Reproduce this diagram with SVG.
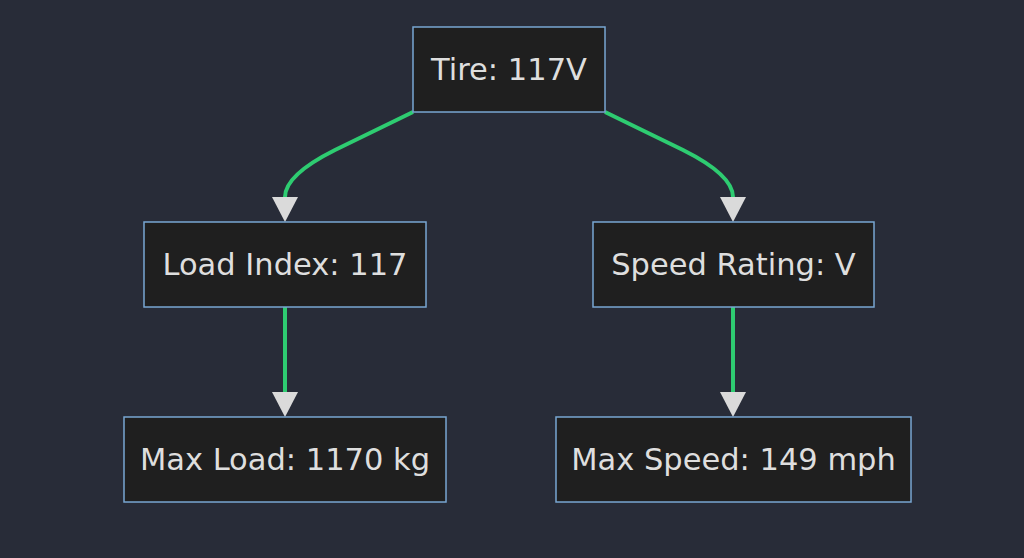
<svg xmlns="http://www.w3.org/2000/svg" width="1024" height="558" viewBox="0 0 1024 558">
<style>
.node rect{fill:#1f1f1f;stroke:#78a6d2;stroke-width:1.5}
.node text{fill:#dedede;font-family:"DejaVu Sans",sans-serif;font-size:30.5px;text-anchor:middle;dominant-baseline:central}
.edge{fill:none;stroke:#2ecc71;stroke-width:4}
</style>
<defs>
<marker id="arr" markerUnits="userSpaceOnUse" markerWidth="28" markerHeight="28" refX="0" refY="13" orient="auto" overflow="visible">
<path d="M0,0 L25,13 L0,26 Z" fill="#dadada"/>
</marker>
</defs>
<rect width="1024" height="558" fill="#282c38"/>
<g id="edges">
<path class="edge" d="M413,112 L335,150 Q285,175 285,197" marker-end="url(#arr)"/>
<path class="edge" d="M605,112 L683,150 Q733,175 733,197" marker-end="url(#arr)"/>
<path class="edge" d="M285,307 L285,392" marker-end="url(#arr)"/>
<path class="edge" d="M733,307 L733,392" marker-end="url(#arr)"/>
</g>
<g id="tire" class="node"><rect x="413" y="27" width="192" height="85"/><text x="509" y="69">Tire: 117V</text></g>
<g id="load" class="node"><rect x="144" y="222" width="282" height="85"/><text x="285" y="264">Load Index: 117</text></g>
<g id="speed" class="node"><rect x="593" y="222" width="281" height="85"/><text x="733.5" y="264">Speed Rating: V</text></g>
<g id="maxload" class="node"><rect x="124" y="417" width="322" height="85"/><text x="285" y="459">Max Load: 1170 kg</text></g>
<g id="maxspeed" class="node"><rect x="556" y="417" width="355" height="85"/><text x="733.5" y="459">Max Speed: 149 mph</text></g>
</svg>
